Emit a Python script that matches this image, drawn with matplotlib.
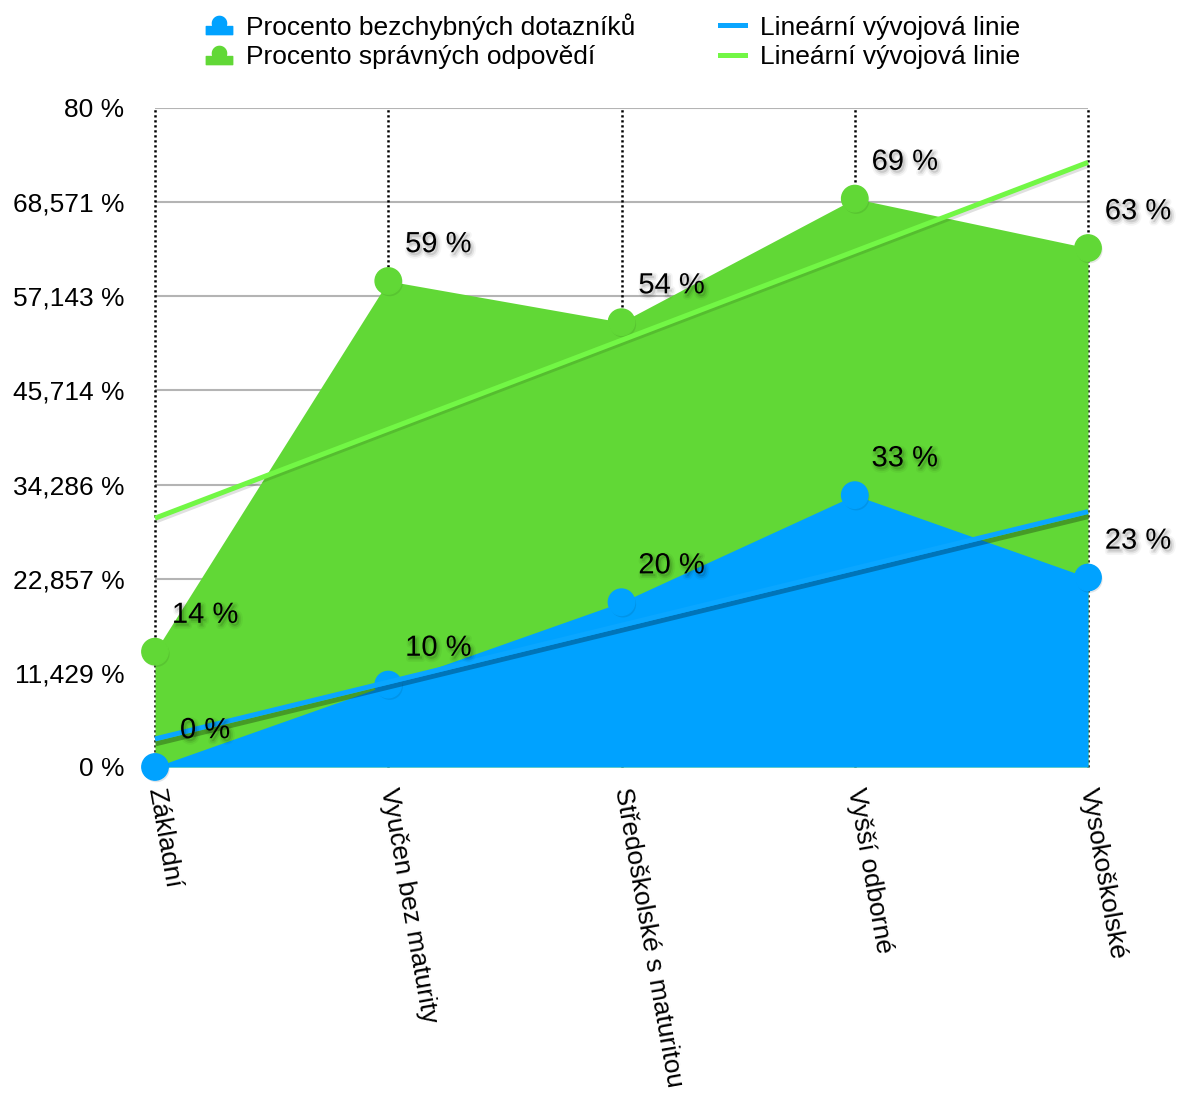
import numpy as np
import matplotlib
matplotlib.use("Agg")
import matplotlib.pyplot as plt
import matplotlib.patheffects as pe
from matplotlib.lines import Line2D
from matplotlib.path import Path

plt.rcParams['font.family'] = ['Liberation Sans', 'DejaVu Sans']

categories = ["Základní", "Vyučen bez maturity", "Středoškolské s maturitou",
              "Vyšší odborné", "Vysokoškolské"]
bezchybne = [0, 10, 20, 33, 23]      # Procento bezchybných dotazníků
spravne = [14, 59, 54, 69, 63]       # Procento správných odpovědí
y_ticks = np.linspace(0, 80, 8)
y_tick_labels = ["0 %", "11,429 %", "22,857 %", "34,286 %", "45,714 %",
                 "57,143 %", "68,571 %", "80 %"]
series_names = ["Procento bezchybných dotazníků", "Procento správných odpovědí"]
trend_name = "Lineární vývojová linie"

blue = "#00a2ff"
green = "#61d836"
blue_trend = "#0aa6ff"
green_trend = "#72f745"

fig = plt.figure(figsize=(11.77, 10.93), dpi=100)
ax = fig.add_axes([0.1317, 0.2983, 0.7927, 0.6029])
x = np.arange(len(categories))

# grid and dotted category guides
for t in y_ticks:
    ax.axhline(t, color="#b4b4b4", lw=1.5, zorder=0)
for xi in x:
    ax.axvline(xi, color="black", lw=1.8, ls=(0, (0.9, 1.1)), zorder=0.5, clip_on=False)

# areas
ax.fill_between(x, 0, spravne, color=green, lw=0, zorder=1)
ax.fill_between(x, 0, bezchybne, color=blue, lw=0, zorder=2)

shadow_pt = [pe.SimplePatchShadow(offset=(1, -1.5), alpha=0.12), pe.Normal()]
ax.plot(x, spravne, "o", ms=19, color=green, zorder=3, clip_on=False,
        path_effects=shadow_pt)
ax.plot(x, bezchybne, "o", ms=19, color=blue, zorder=3, clip_on=False,
        path_effects=shadow_pt)

# linear trend lines
trend_shadows = {
    blue_trend: [pe.SimpleLineShadow(offset=(0.5, -3.5), shadow_color="black", alpha=0.28),
                 pe.Normal()],
    green_trend: [pe.SimpleLineShadow(offset=(0.5, -2), shadow_color="black", alpha=0.12),
                  pe.Normal()],
}
for vals, col in ((bezchybne, blue_trend), (spravne, green_trend)):
    k, q = np.polyfit(x, vals, 1)
    ax.plot(x[[0, -1]], q + k * x[[0, -1]], color=col, lw=3.6, zorder=4,
            solid_capstyle="butt", clip_on=False, path_effects=trend_shadows[col])

# value labels
text_shadow = [pe.Stroke(offset=(1.5, -2), linewidth=5, foreground="black", alpha=0.04),
               pe.Stroke(offset=(1.5, -2), linewidth=2.5, foreground="black", alpha=0.07),
               pe.Normal()]
for vals in (spravne, bezchybne):
    for xi, v in zip(x, vals):
        ax.annotate(f"{v} %", (xi, v), xytext=(36, 26.5), textcoords="offset points",
                    ha="center", va="center", fontsize=21, zorder=6,
                    path_effects=text_shadow, annotation_clip=False)

ax.set_xlim(0, 4)
ax.set_ylim(0, 80)
ax.set_yticks(y_ticks, y_tick_labels, fontsize=19)
ax.set_xticks(x, categories, fontsize=19, rotation=-80, rotation_mode="anchor",
              ha="left", va="center")
ax.tick_params(axis="y", length=0, pad=22)
ax.tick_params(axis="x", length=0, pad=15)
for s in ax.spines.values():
    s.set_visible(False)

# legend
r, cy = 7, 3
half = np.sqrt(r ** 2 - cy ** 2)
a0 = np.arctan2(-cy, half)
arc = np.linspace(a0, np.pi - a0, 30)
verts = [(-13, -8), (13, -8), (13, 0)] + \
        [(r * np.cos(a), cy + r * np.sin(a)) for a in arc] + [(-13, 0), (-13, -8)]
verts = [(vx, vy - 1) for vx, vy in verts]
dome = Path(verts, closed=True)

handles = [
    Line2D([], [], ls="none", marker=dome, ms=19, color=blue),
    Line2D([], [], ls="none", marker=dome, ms=19, color=green),
    Line2D([], [], color=blue_trend, lw=3.6),
    Line2D([], [], color=green_trend, lw=3.6),
]
labels = series_names + [trend_name, trend_name]
fig.legend(handles, labels, ncol=2, loc="upper center", bbox_to_anchor=(0.5212, 1.01),
           frameon=False, fontsize=19, handlelength=0.95, handletextpad=0.55,
           columnspacing=3.2, labelspacing=0.2)

fig.savefig("out.png", dpi=100)
